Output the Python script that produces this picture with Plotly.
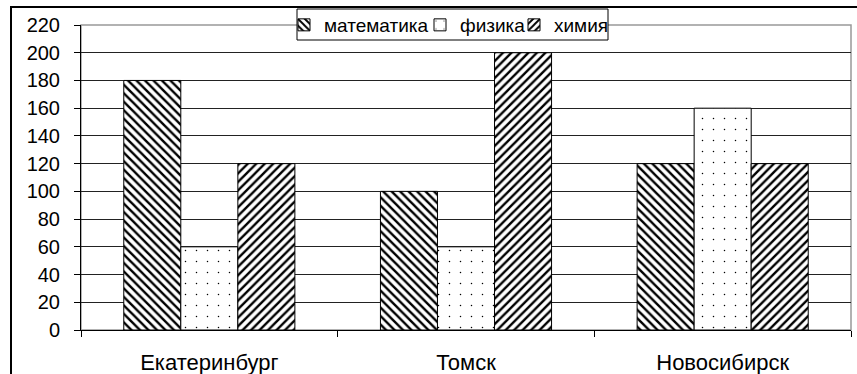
import plotly.graph_objects as go

cities = ["Екатеринбург", "Томск", "Новосибирск"]
math_vals = [180, 100, 120]
phys_vals = [60, 60, 160]
chem_vals = [120, 200, 120]
series_names = ["математика", "физика", "химия"]
y_ticks = list(range(0, 221, 20))

W, H = 857, 374
L, R, T, B = 81, 6, 25, 44
pw, ph = W - L - R, H - T - B

FONT = "Liberation Sans, Arial, sans-serif"

def px_x(x):
    return (x - L) / pw

def px_y(y):
    return (H - B - y) / ph

def pat(shape, size, sol):
    return dict(shape=shape, fgcolor="black", bgcolor="white", size=size, solidity=sol, fillmode="replace")

fig = go.Figure()
fig.add_trace(go.Bar(name=series_names[0], x=cities, y=math_vals, legend="legend",
                     marker=dict(color="white", line=dict(color="black", width=1), pattern=pat("\\", 6, 0.4))))
fig.add_trace(go.Bar(name=series_names[1], x=cities, y=phys_vals, legend="legend2",
                     marker=dict(color="white", line=dict(color="black", width=1), pattern=pat(".", 11, 0.015))))
fig.add_trace(go.Bar(name=series_names[2], x=cities, y=chem_vals, legend="legend3",
                     marker=dict(color="white", line=dict(color="black", width=1), pattern=pat("/", 6, 0.4))))

# outer chart frame
fig.add_shape(type="rect", xref="paper", yref="paper",
              x0=px_x(11), x1=px_x(W + 5), y0=px_y(H + 5), y1=px_y(7),
              line=dict(color="black", width=2), fillcolor="rgba(0,0,0,0)", layer="below")
# gray plot-area border
fig.add_shape(type="rect", xref="paper", yref="paper", x0=0, x1=1, y0=0, y1=1,
              line=dict(color="#999999", width=1.5), fillcolor="rgba(0,0,0,0)", layer="below")
# legend box
fig.add_shape(type="rect", xref="paper", yref="paper",
              x0=px_x(297), x1=px_x(608), y0=px_y(40), y1=px_y(9),
              line=dict(color="black", width=1), fillcolor="white", layer="above")

def leg(xtext):
    return dict(orientation="h", x=px_x(xtext - 40), y=px_y(25),
                xanchor="left", yanchor="middle",
                bgcolor="rgba(0,0,0,0)", borderwidth=0,
                font=dict(family=FONT, size=19), itemwidth=30)

fig.update_layout(
    width=W, height=H,
    margin=dict(l=L, r=R, t=T, b=B, autoexpand=False),
    paper_bgcolor="white", plot_bgcolor="white",
    barmode="group", bargap=1/3, bargroupgap=0,
    font=dict(family=FONT, size=20, color="black"),
    showlegend=True,
    legend=leg(324), legend2=leg(460), legend3=leg(554),
    xaxis=dict(showgrid=False, ticks="outside", ticklen=6, tickcolor="black",
               tickson="boundaries", showline=True, linecolor="black", linewidth=1,
               tickfont=dict(size=22, family=FONT), ticklabelstandoff=13),
    yaxis=dict(range=[0, 220], tickvals=y_ticks, ticks="outside", ticklen=6,
               tickcolor="black", showgrid=True, gridcolor="#222222", gridwidth=1,
               showline=True, linecolor="black", linewidth=1, zeroline=False,
               tickfont=dict(size=20, family=FONT), ticklabelstandoff=10),
)

fig.write_html("out.html", config={"displayModeBar": False},
               post_script="document.body.style.margin='0';")
